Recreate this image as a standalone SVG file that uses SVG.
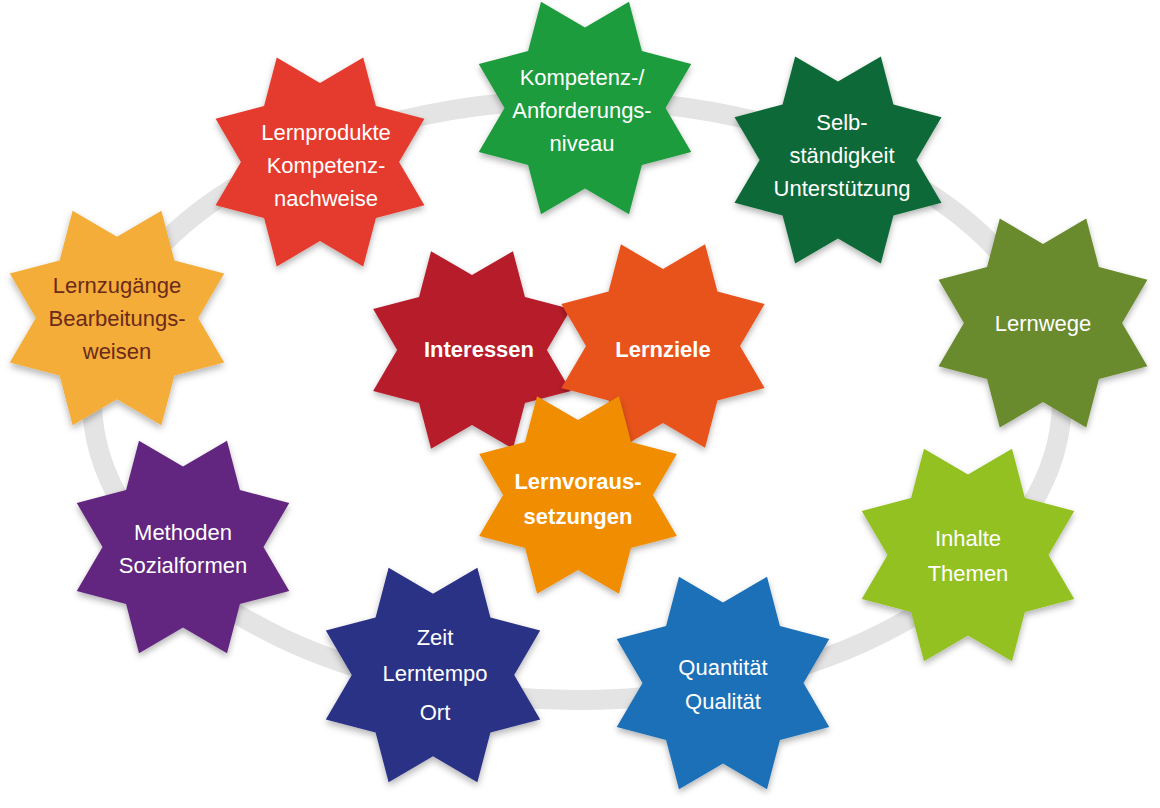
<svg xmlns="http://www.w3.org/2000/svg" xmlns:xlink="http://www.w3.org/1999/xlink" width="1160" height="808" viewBox="0 0 1160 808">
<defs>
<polygon id="star" points="0,-70 38.27,-92.39 49.5,-49.5 92.39,-38.27 70,0 92.39,38.27 49.5,49.5 38.27,92.39 0,70 -38.27,92.39 -49.5,49.5 -92.39,38.27 -70,0 -92.39,-38.27 -49.5,-49.5 -38.27,-92.39"/>
<filter id="sh" x="-20%" y="-20%" width="140%" height="140%"><feDropShadow dx="0" dy="3" stdDeviation="3" flood-opacity="0.3"/></filter>
</defs>
<style>
text{font-family:"Liberation Sans",Arial,sans-serif;font-size:22px;fill:#fff;text-anchor:middle}
.b{font-weight:bold}
.d{fill:#6b2a1a}
</style>
<rect width="1160" height="808" fill="#fff"/>
<ellipse cx="577" cy="400" rx="485" ry="300" fill="none" stroke="#e4e4e4" stroke-width="20"/>
<g id="n1"><use xlink:href="#star" transform="translate(585,108) scale(1.15)" fill="#1e9c3c" filter="url(#sh)"/><text x="582" y="85">Kompetenz-/</text><text x="582" y="118">Anforderungs-</text><text x="582" y="151">niveau</text></g>
<g id="n2"><use xlink:href="#star" transform="translate(838,160) scale(1.12)" fill="#0e6b37" filter="url(#sh)"/><text x="842" y="130">Selb-</text><text x="842" y="163">ständigkeit</text><text x="842" y="196">Unterstützung</text></g>
<g id="n3"><use xlink:href="#star" transform="translate(1043,323) scale(1.13)" fill="#6a8a2f" filter="url(#sh)"/><text x="1043" y="331">Lernwege</text></g>
<g id="n4"><use xlink:href="#star" transform="translate(968,555) scale(1.15)" fill="#93c122" filter="url(#sh)"/><text x="968" y="546">Inhalte</text><text x="968" y="581">Themen</text></g>
<g id="n5"><use xlink:href="#star" transform="translate(723,683) scale(1.15)" fill="#1b6fb7" filter="url(#sh)"/><text x="723" y="675">Quantität</text><text x="723" y="709">Qualität</text></g>
<g id="n6"><use xlink:href="#star" transform="translate(433,675) scale(1.16)" fill="#2c3086" filter="url(#sh)"/><text x="435" y="645">Zeit</text><text x="435" y="681">Lerntempo</text><text x="435" y="720">Ort</text></g>
<g id="n7"><use xlink:href="#star" transform="translate(183,547) scale(1.15)" fill="#632680" filter="url(#sh)"/><text x="183" y="540">Methoden</text><text x="183" y="573">Sozialformen</text></g>
<g id="n8"><use xlink:href="#star" transform="translate(117,318) scale(1.16)" fill="#f3ad38" filter="url(#sh)"/><text class="d" x="117" y="293">Lernzugänge</text><text class="d" x="117" y="326">Bearbeitungs-</text><text class="d" x="117" y="359">weisen</text></g>
<g id="n9"><use xlink:href="#star" transform="translate(320,162) scale(1.13)" fill="#e53b2f" filter="url(#sh)"/><text x="326" y="140">Lernprodukte</text><text x="326" y="173">Kompetenz-</text><text x="326" y="206">nachweise</text></g>
<g id="c1"><use xlink:href="#star" transform="translate(472,350) scale(1.07)" fill="#b71c2b" filter="url(#sh)"/><text class="b" x="479" y="357">Interessen</text></g>
<g id="c2"><use xlink:href="#star" transform="translate(663,346) scale(1.1)" fill="#e8521e" filter="url(#sh)"/><text class="b" x="663" y="357">Lernziele</text></g>
<g id="c3"><use xlink:href="#star" transform="translate(578,495) scale(1.07)" fill="#f08d00" filter="url(#sh)"/><text class="b" x="578" y="489">Lernvoraus-</text><text class="b" x="578" y="524">setzungen</text></g>
<g id="connectors"/>
</svg>
